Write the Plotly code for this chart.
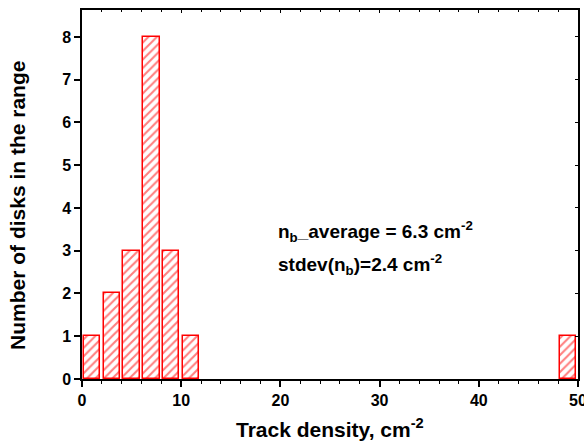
import plotly.graph_objects as go

bin_centers = [1, 3, 5, 7, 9, 11, 49]
counts = [1, 2, 3, 8, 3, 1, 1]
x_ticks = [0, 10, 20, 30, 40, 50]
y_ticks = [0, 1, 2, 3, 4, 5, 6, 7, 8]

FONT = "Liberation Sans, Arial, sans-serif"

fig = go.Figure()
fig.add_trace(go.Bar(
    x=bin_centers, y=counts, width=1.65,
    marker=dict(color="white",
                line=dict(color="#ff0000", width=1.5),
                pattern=dict(shape="/", fgcolor="#ff0000", bgcolor="white",
                             size=6, solidity=0.35)),
    showlegend=False,
))
# invisible trace to anchor the mirror axes
fig.add_trace(go.Scatter(x=[0], y=[0], xaxis="x2", yaxis="y2", mode="markers",
                         marker=dict(opacity=0), showlegend=False, hoverinfo="skip"))

fig.add_annotation(x=19.6, y=3.44, xref="x", yref="y", xanchor="left",
                   text="<b>n<sub>b</sub>_average = 6.3 cm<sup>-2</sup></b>",
                   showarrow=False, font=dict(family=FONT, size=19, color="black"))
fig.add_annotation(x=19.6, y=2.67, xref="x", yref="y", xanchor="left",
                   text="<b>stdev(n<sub>b</sub>)=2.4 cm<sup>-2</sup></b>",
                   showarrow=False, font=dict(family=FONT, size=19, color="black"))
# axis titles
fig.add_annotation(x=0.5, y=-0.133, xref="paper", yref="paper",
                   xanchor="center", yanchor="middle",
                   text="<b>Track density, cm<sup>-2</sup></b>",
                   showarrow=False, font=dict(family=FONT, size=21, color="black"))
fig.add_annotation(x=-0.129, y=0.469, xref="paper", yref="paper",
                   xanchor="center", yanchor="middle", textangle=-90,
                   text="<b>Number of disks in the range</b>",
                   showarrow=False, font=dict(family=FONT, size=21, color="black"))

axis_common = dict(showgrid=False, zeroline=False, showline=True,
                   linecolor="black", linewidth=1.5, automargin=False)
tickfont = dict(family=FONT, size=16, color="black")

fig.update_layout(
    width=584, height=445,
    margin=dict(l=82, r=6, t=10, b=66, autoexpand=False),
    plot_bgcolor="white", paper_bgcolor="white",
    font=dict(family=FONT, color="black"),
    bargap=0,
    xaxis=dict(range=[0, 50], tickvals=x_ticks,
               ticktext=[f"<b>{v}</b>" for v in x_ticks],
               ticks="outside", ticklen=6, ticklabeloverflow="allow",
               tickwidth=1.5, tickcolor="black",
               minor=dict(dtick=2, ticks="outside", ticklen=3, tickcolor="black", tickwidth=1),
               tickfont=tickfont,
               **axis_common),
    yaxis=dict(range=[0, 8.63], tickvals=y_ticks,
               ticktext=[f"<b>{v}</b>" for v in y_ticks],
               ticks="outside", ticklen=6, ticklabeloverflow="allow",
               tickwidth=1.5, tickcolor="black",
               tickfont=tickfont,
               **axis_common),
    xaxis2=dict(range=[0, 50], overlaying="x", side="top", tickvals=x_ticks,
                ticks="inside", ticklen=3, tickcolor="black", showticklabels=False,
                minor=dict(dtick=2, ticks="inside", ticklen=2, tickcolor="black"),
                **axis_common),
    yaxis2=dict(range=[0, 8.63], overlaying="y", side="right", tickvals=y_ticks,
                ticks="inside", ticklen=3, tickcolor="black", showticklabels=False,
                **axis_common),
)

fig.write_html("out.html", config={"displayModeBar": False},
               post_script="document.body.style.margin='0';document.body.style.overflow='hidden';")
